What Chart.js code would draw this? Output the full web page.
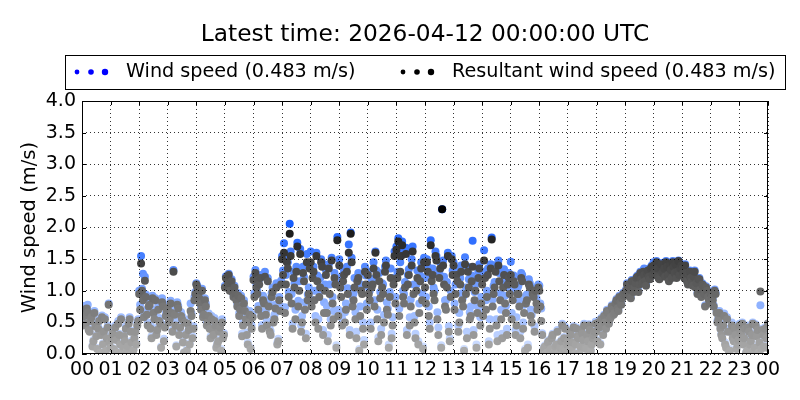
<!DOCTYPE html>
<html><head><meta charset="utf-8">
<script src="https://cdn.jsdelivr.net/npm/chart.js@4"></script>
<style>html,body{margin:0;padding:0;background:#fff;}#wrap{width:800px;height:400px;}</style>
</head><body><div id="wrap"><canvas id="c" width="800" height="400"></canvas></div>
<script>
const titleText = 'Latest time: 2026-04-12 00:00:00 UTC';
const seriesLabels = ['Wind speed (0.483 m/s)', 'Resultant wind speed (0.483 m/s)'];
const yAxisTitle = 'Wind speed (m/s)';
const hourTicks = [0,1,2,3,4,5,6,7,8,9,10,11,12,13,14,15,16,17,18,19,20,21,22,23,24];
const yTicks = [0,0.5,1,1.5,2,2.5,3,3.5,4];
const stepMinutes = 4;     // samples of set A at :00,:04,:08 ... ; set B 2 minutes later

// set A: one value every 4 minutes from 00:00 (15 per hour), last value = 00:00 next day
const windSpeedA = [
0.66,0.76,0.50,0.78,0.38,0.62,0.22,0.47,0.10,0.55,0.34,0.17,0.58,0.28,0.80,
0.12,0.35,0.07,0.25,0.52,0.18,0.04,0.31,0.44,0.14,0.58,0.21,0.08,0.38,0.50,
1.00,1.55,1.27,1.22,0.70,0.84,0.45,0.92,0.62,0.33,0.78,0.52,0.88,0.24,0.65,
0.78,0.58,0.70,1.33,0.52,0.82,0.36,0.66,0.20,0.55,0.08,0.42,0.80,0.28,0.90,
1.12,0.98,0.86,1.03,0.68,0.80,0.56,0.44,0.60,0.33,0.50,0.18,0.40,0.08,0.30,
1.08,1.22,1.27,1.15,1.02,1.08,0.90,0.96,0.76,0.32,0.85,0.62,0.18,0.68,0.45,
1.22,1.33,1.00,1.18,0.68,0.92,1.30,0.52,0.84,0.36,1.05,0.62,1.12,0.24,0.76,
1.55,1.75,1.25,1.45,2.06,0.95,1.30,0.70,1.76,1.15,0.45,1.38,0.82,1.58,1.05,
1.62,1.35,1.00,1.60,0.55,1.20,1.45,0.82,1.33,0.30,1.10,1.52,0.68,1.22,1.85,
1.50,1.05,1.25,0.66,1.38,1.73,1.92,0.90,1.20,0.35,1.28,0.75,1.08,0.22,1.24,
1.30,1.00,1.18,1.45,1.62,0.70,1.28,0.40,1.10,1.38,0.82,0.15,1.35,0.58,1.62,
1.70,1.83,1.45,1.78,0.95,1.68,1.25,0.58,1.50,1.10,0.32,1.32,0.80,1.45,0.12,
1.20,1.50,0.75,1.80,1.35,1.00,1.55,0.42,1.45,2.29,1.22,0.85,1.60,0.25,1.55,
1.45,1.10,1.28,0.65,1.40,0.90,1.53,0.35,1.18,0.75,1.79,0.98,0.15,1.30,0.58,
1.25,1.64,0.85,1.35,0.55,1.84,1.08,1.40,0.30,1.28,0.70,1.15,0.92,0.40,1.28,
1.46,1.00,1.22,0.58,1.08,0.35,1.25,0.78,0.92,0.15,1.12,0.62,0.98,1.05,0.78,
1.08,0.72,0.07,0.14,0.03,0.22,0.10,0.32,0.05,0.17,0.01,0.12,0.48,0.27,0.08,
0.22,0.37,0.10,0.44,0.17,0.30,0.03,0.40,0.24,0.12,0.32,0.47,0.07,0.27,0.38,
0.37,0.52,0.17,0.47,0.62,0.42,0.67,0.58,0.77,0.64,0.82,0.74,0.92,0.80,0.97,
0.97,1.12,1.04,0.90,1.17,1.07,1.22,1.00,1.30,1.14,1.35,1.10,1.34,1.20,1.40,
1.45,1.27,1.37,1.20,1.44,1.32,1.24,1.40,1.17,1.35,1.47,1.30,1.22,1.48,1.37,
1.38,1.22,1.33,1.12,1.32,1.17,1.26,1.07,0.97,1.20,0.92,1.10,0.77,1.02,0.87,
0.98,0.88,1.02,0.68,0.60,0.45,0.30,0.64,0.14,0.40,0.08,0.50,0.24,0.34,0.18,
0.48,0.33,0.18,0.43,0.07,0.38,0.22,0.50,0.12,0.30,0.04,0.77,0.40,0.14,0.28,
0.483
];
const resultantA = [
0.62,0.70,0.48,0.66,0.35,0.58,0.20,0.44,0.08,0.52,0.30,0.15,0.55,0.25,0.78,
0.10,0.32,0.05,0.22,0.48,0.15,0.02,0.28,0.40,0.12,0.55,0.18,0.06,0.35,0.45,
0.95,1.43,0.85,1.16,0.62,0.75,0.40,0.88,0.55,0.30,0.70,0.48,0.82,0.20,0.60,
0.72,0.55,0.65,1.30,0.45,0.78,0.30,0.60,0.18,0.50,0.05,0.38,0.68,0.25,0.85,
1.10,0.95,0.80,1.00,0.62,0.75,0.50,0.40,0.55,0.30,0.45,0.15,0.35,0.05,0.25,
1.05,1.18,1.25,1.12,0.98,1.05,0.85,0.92,0.70,0.28,0.80,0.55,0.15,0.62,0.40,
1.17,1.28,0.95,1.10,0.60,0.85,1.22,0.45,0.75,0.30,0.98,0.55,1.05,0.20,0.68,
1.50,1.60,1.10,1.35,1.90,0.80,1.20,0.55,1.70,1.00,0.35,1.28,0.70,1.45,0.95,
1.45,1.20,0.85,1.55,0.40,1.05,1.38,0.65,1.25,0.20,0.95,1.48,0.55,1.10,1.80,
1.40,0.90,1.15,0.50,1.30,1.60,1.90,0.75,1.05,0.25,1.20,0.60,0.95,0.15,1.10,
1.25,0.85,1.05,1.35,1.60,0.55,1.15,0.30,0.95,1.30,0.70,0.10,1.20,0.45,1.55,
1.65,1.78,1.30,1.72,0.80,1.58,1.10,0.45,1.40,0.95,0.25,1.20,0.65,1.35,0.08,
1.05,1.45,0.60,1.72,1.25,0.85,1.48,0.30,1.35,2.29,1.10,0.70,1.55,0.20,1.50,
1.40,0.95,1.15,0.50,1.30,0.75,1.42,0.25,1.05,0.60,1.38,0.85,0.10,1.20,0.45,
1.10,1.48,0.70,1.25,0.40,1.81,0.95,1.30,0.20,1.15,0.55,1.05,0.80,0.30,1.20,
1.25,0.85,1.10,0.45,0.95,0.25,1.15,0.65,0.80,0.10,1.05,0.50,0.90,1.00,0.70,
1.00,0.52,0.05,0.12,0.02,0.20,0.08,0.30,0.04,0.15,0.00,0.10,0.45,0.25,0.06,
0.20,0.35,0.08,0.42,0.15,0.28,0.02,0.38,0.22,0.10,0.30,0.45,0.05,0.25,0.35,
0.35,0.50,0.15,0.45,0.60,0.40,0.65,0.55,0.75,0.62,0.80,0.72,0.90,0.78,0.95,
0.95,1.10,1.02,0.88,1.15,1.05,1.20,0.98,1.28,1.12,1.25,1.08,1.32,1.18,1.38,
1.40,1.25,1.35,1.18,1.42,1.30,1.22,1.38,1.15,1.33,1.45,1.28,1.20,1.47,1.35,
1.35,1.20,1.28,1.10,1.30,1.15,1.22,1.05,0.95,1.18,0.90,1.08,0.75,1.00,0.85,
0.95,0.85,1.00,0.65,0.55,0.40,0.25,0.60,0.10,0.35,0.05,0.45,0.20,0.30,0.15,
0.45,0.30,0.15,0.40,0.05,0.35,0.20,0.48,0.10,0.28,0.02,0.99,0.38,0.12,0.25,
0.483
];
// set B: one value every 4 minutes from 00:02 (15 per hour)
const windSpeedB = [
0.47,0.63,0.74,0.40,0.55,0.14,0.68,0.30,0.43,0.03,0.61,0.37,0.06,0.45,0.20,
0.27,0.09,0.45,0.03,0.32,0.58,0.13,0.22,0.06,0.51,0.37,0.01,0.27,0.17,0.55,
0.78,1.03,0.65,0.94,0.50,0.84,0.28,0.70,0.88,0.42,0.57,0.12,0.80,0.46,0.72,
0.55,0.84,0.38,0.67,0.14,0.76,0.46,0.60,0.03,0.33,0.52,0.17,0.64,0.44,0.98,
1.08,0.92,0.74,0.62,0.88,0.50,0.64,0.28,0.42,0.57,0.12,0.23,0.46,0.55,0.33,
1.23,1.13,1.03,1.18,0.94,0.98,0.80,0.65,0.92,0.50,0.72,0.34,0.54,0.10,0.62,
0.96,1.10,0.76,1.25,0.46,0.88,0.68,1.20,0.40,0.96,0.56,0.78,0.18,0.90,1.16,
1.32,0.74,1.52,0.98,1.62,0.48,1.12,1.38,0.84,1.66,0.60,1.22,0.32,0.94,1.42,
0.86,1.38,0.60,1.24,0.98,1.50,0.38,1.10,0.76,1.42,0.55,0.90,1.28,0.14,0.70,
1.15,0.56,1.32,0.80,1.04,0.38,1.52,0.96,0.66,1.22,0.08,1.10,0.50,1.38,0.80,
1.05,0.50,1.18,0.85,1.32,0.26,0.98,1.12,0.62,1.48,0.72,0.98,0.32,1.20,0.90,
1.30,0.72,1.62,1.00,1.14,0.38,1.34,0.86,1.70,0.60,1.10,0.20,1.24,0.96,1.52,
0.90,1.38,0.50,1.24,1.05,1.62,0.66,1.30,0.14,1.48,0.85,1.14,0.44,1.00,1.32,
0.80,1.34,0.45,1.20,0.96,0.08,1.05,1.38,0.66,1.24,0.38,1.10,0.76,1.42,0.90,
0.70,1.30,1.00,0.20,1.42,0.86,1.14,0.55,1.48,0.96,0.32,1.34,0.76,1.20,1.04,
0.65,1.24,0.38,1.04,0.85,1.28,0.50,0.08,0.94,1.18,0.70,1.02,0.44,0.88,1.10,
0.80,0.33,0.12,0.01,0.20,0.06,0.27,0.03,0.14,0.38,0.04,0.22,0.10,0.43,0.17,
0.06,0.32,0.20,0.01,0.42,0.27,0.14,0.34,0.48,0.10,0.22,0.40,0.17,0.32,0.51,
0.22,0.44,0.57,0.32,0.52,0.70,0.50,0.60,0.72,0.67,0.87,0.70,0.84,0.90,0.94,
1.02,0.94,1.10,1.17,1.00,1.14,1.24,1.12,1.20,1.32,1.17,1.30,1.24,1.37,1.27,
1.32,1.47,1.22,1.40,1.30,1.37,1.47,1.27,1.42,1.22,1.40,1.44,1.32,1.27,1.42,
1.30,1.42,1.17,1.27,1.22,1.10,1.32,1.14,1.20,1.04,1.12,0.97,1.07,0.92,0.82,
0.92,0.77,0.97,0.53,0.68,0.33,0.48,0.18,0.58,0.03,0.38,0.28,0.43,0.10,0.25,
0.37,0.50,0.27,0.03,0.45,0.17,0.32,0.06,0.47,0.40,0.20,0.10,0.32,0.42,0.12
];
const resultantB = [
0.45,0.60,0.72,0.38,0.52,0.12,0.65,0.28,0.40,0.02,0.58,0.35,0.05,0.42,0.18,
0.25,0.08,0.42,0.02,0.30,0.55,0.12,0.20,0.05,0.48,0.35,0.00,0.25,0.15,0.52,
0.70,1.00,0.58,0.90,0.45,0.78,0.25,0.65,0.85,0.38,0.52,0.10,0.75,0.42,0.68,
0.50,0.80,0.35,0.62,0.12,0.72,0.42,0.55,0.02,0.30,0.48,0.15,0.60,0.40,0.95,
1.05,0.88,0.70,0.58,0.85,0.45,0.60,0.25,0.38,0.52,0.10,0.20,0.42,0.50,0.30,
1.20,1.10,1.00,1.15,0.90,0.95,0.75,0.60,0.88,0.45,0.68,0.30,0.50,0.08,0.58,
0.90,1.05,0.70,1.20,0.40,0.80,0.62,1.15,0.35,0.90,0.50,0.72,0.15,0.85,1.10,
1.25,0.65,1.45,0.90,1.55,0.40,1.05,1.30,0.75,1.58,0.50,1.15,0.25,0.85,1.35,
0.75,1.30,0.50,1.15,0.90,1.45,0.30,1.00,0.65,1.35,0.45,0.80,1.20,0.10,0.60,
1.05,0.45,1.25,0.70,0.95,0.30,1.45,0.85,0.55,1.15,0.05,1.00,0.40,1.30,0.70,
0.95,0.40,1.10,0.75,1.25,0.20,0.88,1.05,0.50,1.40,0.62,0.90,0.25,1.10,0.80,
1.20,0.60,1.55,0.90,1.05,0.30,1.25,0.75,1.62,0.50,1.00,0.15,1.15,0.85,1.45,
0.80,1.30,0.40,1.15,0.95,1.55,0.55,1.20,0.10,1.40,0.75,1.05,0.35,0.90,1.25,
0.70,1.25,0.35,1.10,0.85,0.05,0.95,1.30,0.55,1.15,0.30,1.00,0.65,1.35,0.80,
0.60,1.20,0.90,0.15,1.35,0.75,1.05,0.45,1.40,0.85,0.25,1.25,0.65,1.10,0.95,
0.55,1.15,0.30,0.95,0.75,1.20,0.40,0.05,0.85,1.10,0.60,0.95,0.35,0.80,1.05,
0.75,0.30,0.10,0.00,0.18,0.05,0.25,0.02,0.12,0.35,0.03,0.20,0.08,0.40,0.15,
0.05,0.30,0.18,0.00,0.40,0.25,0.12,0.32,0.45,0.08,0.20,0.38,0.15,0.30,0.48,
0.20,0.42,0.55,0.30,0.50,0.68,0.48,0.58,0.70,0.65,0.85,0.68,0.82,0.88,0.92,
1.00,0.92,1.08,1.15,0.98,1.12,1.22,1.10,1.18,1.30,1.15,1.28,1.22,1.35,1.25,
1.30,1.45,1.20,1.38,1.28,1.35,1.45,1.25,1.40,1.20,1.38,1.42,1.30,1.25,1.40,
1.28,1.40,1.15,1.25,1.20,1.08,1.30,1.12,1.18,1.02,1.10,0.95,1.05,0.90,0.80,
0.90,0.75,0.95,0.50,0.65,0.30,0.45,0.15,0.55,0.02,0.35,0.25,0.40,0.08,0.22,
0.35,0.48,0.25,0.02,0.42,0.15,0.30,0.05,0.45,0.38,0.18,0.08,0.30,0.40,0.10
];

const FONT = 'DejaVu Sans';
const TICK_FS = 19;
const toPoints = (a, b) => a.map((v, i) => ({x: i * stepMinutes / 60, y: v}))
  .concat(b.map((v, i) => ({x: (i * stepMinutes + stepMinutes / 2) / 60, y: v})))
  .sort((p, q) => p.x - q.x);
const clamp01 = t => Math.min(Math.max(t, 0), 1);
function greyFor(v){ const t = clamp01(v / 2.3); const g = Math.round(175 * (1 - t)); return `rgb(${g},${g},${g})`; }
function blueFor(v){ const t = clamp01(v / 2.3); return `rgb(${Math.round(215*(1-t))},${Math.round(228-150*t)},255)`; }

const decor = {
  id: 'decor',
  afterDraw(chart){
    const {ctx, chartArea: a, scales} = chart;
    ctx.save();
    ctx.strokeStyle = '#000'; ctx.lineWidth = 1;
    ctx.strokeRect(Math.round(a.left)+0.5, Math.round(a.top)+0.5, Math.round(a.right-a.left)-1, Math.round(a.bottom-a.top)-1);
    ctx.beginPath();
    scales.x.ticks.forEach(t => {
      const x = Math.round(scales.x.getPixelForValue(t.value)) + 0.5;
      ctx.moveTo(x, a.bottom); ctx.lineTo(x, a.bottom - 4);
      ctx.moveTo(x, a.top); ctx.lineTo(x, a.top + 4);
    });
    scales.y.ticks.forEach(t => {
      const y = Math.round(scales.y.getPixelForValue(t.value)) + 0.5;
      ctx.moveTo(a.left, y); ctx.lineTo(a.left + 4, y);
      ctx.moveTo(a.right, y); ctx.lineTo(a.right - 4, y);
    });
    ctx.stroke();
    ctx.fillStyle = '#000';
    ctx.font = `23.3px "${FONT}"`;
    ctx.textAlign = 'center'; ctx.textBaseline = 'middle';
    ctx.fillText(titleText, (a.left + a.right) / 2, 35);
    ctx.strokeRect(65.5, 55.5, 720, 34);
    ctx.font = `19.2px "${FONT}"`;
    ctx.textAlign = 'left';
    const cy = 72;
    const groups = [
      {dots: [77, 91, 105], color: '#0000ff', tx: 126, label: chart.data.datasets[0].label},
      {dots: [403, 417, 431], color: '#000000', tx: 452, label: chart.data.datasets[1].label}
    ];
    const rad = [2.4, 2.8, 3.2];
    groups.forEach(g => {
      ctx.fillStyle = g.color;
      g.dots.forEach((dx, k) => { ctx.beginPath(); ctx.arc(dx, cy, rad[k], 0, Math.PI*2); ctx.fill(); });
      ctx.fillStyle = '#000';
      ctx.fillText(g.label, g.tx, cy);
    });
    ctx.restore();
  }
};

new Chart(document.getElementById('c'), {
  type: 'scatter',
  data: {
    datasets: [
      {label: seriesLabels[0], data: toPoints(windSpeedA, windSpeedB), order: 2,
       pointRadius: 4, pointHoverRadius: 4, borderWidth: 0,
       backgroundColor: c => blueFor(c.raw ? c.raw.y : 0)},
      {label: seriesLabels[1], data: toPoints(resultantA, resultantB), order: 1,
       pointRadius: 4, pointHoverRadius: 4, borderWidth: 0,
       backgroundColor: c => greyFor(c.raw ? c.raw.y : 0)}
    ]
  },
  options: {
    responsive: false, animation: false, devicePixelRatio: 1,
    layout: {padding: {left: 0, right: 32, top: 101, bottom: 0}},
    plugins: {legend: {display: false}, title: {display: false}, tooltip: {enabled: false}},
    scales: {
      x: {
        type: 'linear', min: 0, max: 24,
        afterBuildTicks: ax => { ax.ticks = hourTicks.map(v => ({value: v})); },
        afterFit: ax => { ax.height = 46; },
        ticks: {autoSkip: false, maxRotation: 0, minRotation: 0, padding: 5, color: '#000',
          font: {family: FONT, size: TICK_FS},
          callback: v => String(v % 24).padStart(2, '0')},
        grid: {color: 'rgba(0,0,0,0.8)', lineWidth: 1, drawTicks: false, z: 1},
        border: {display: false, dash: [1, 3]}
      },
      y: {
        min: 0, max: 4,
        afterBuildTicks: ax => { ax.ticks = yTicks.map(v => ({value: v})); },
        afterFit: ax => { ax.width = 82; },
        ticks: {padding: 6, color: '#000', font: {family: FONT, size: TICK_FS},
          callback: v => Number(v).toFixed(1)},
        grid: {color: 'rgba(0,0,0,0.8)', lineWidth: 1, drawTicks: false, z: 1},
        border: {display: false, dash: [1, 3]},
        title: {display: true, text: yAxisTitle, color: '#000', font: {family: FONT, size: 19.5}, padding: {top: 18, bottom: 0}}
      }
    }
  },
  plugins: [decor]
});
</script></body></html>
